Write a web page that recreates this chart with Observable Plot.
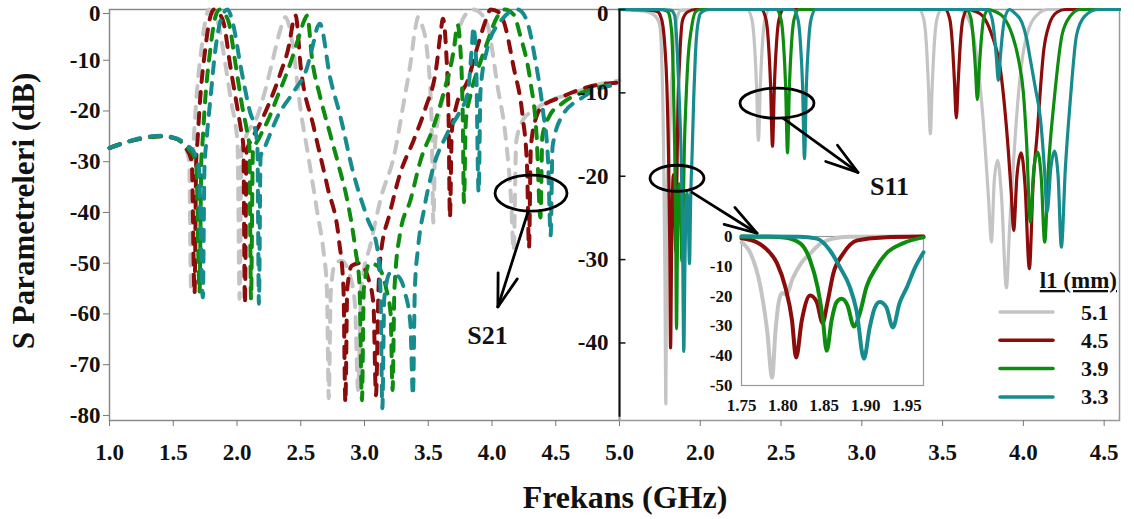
<!DOCTYPE html>
<html><head><meta charset="utf-8">
<script src="https://cdn.jsdelivr.net/npm/d3@7"></script>
<script src="https://cdn.jsdelivr.net/npm/@observablehq/plot@0.6"></script>
<style>
html,body{margin:0;padding:0;background:#fff;}
#chart{position:relative;width:1134px;height:519px;overflow:hidden;background:#fff;font-family:'Liberation Serif',serif;}
#chart > svg{position:absolute;}
#chart svg text{font-family:'Liberation Serif','Times New Roman',Times,serif !important;font-weight:bold;}
</style></head><body><div id="chart"></div><script>
// ---------------- data ----------------
const seriesLabels = ["5.1", "4.5", "3.9", "3.3"];
const legendTitle = "l1 (mm)";
const xTitle = "Frekans (GHz)";
const yTitle = "S Parametreleri (dB)";

// S21 (dashed, left panel): [GHz, dB]
const s21_51 = [[1.0,-27.3],[1.1,-26.4],[1.2,-25.7],[1.3,-25.2],[1.4,-25.0],[1.5,-25.3],[1.56,-26],[1.6,-27.5],[1.625,-30],[1.64,-55.5],[1.655,-30],[1.67,-22],[1.69,-15],[1.72,-8],[1.75,-2.5],[1.78,0],[1.81,-0.5],[1.85,-2.5],[1.91,-11],[1.96,-19],[1.99,-23],[2.005,-27],[2.02,-57],[2.035,-28],[2.07,-25],[2.16,-21],[2.21,-17],[2.28,-10],[2.34,-4],[2.38,-1.5],[2.43,-6],[2.5,-20],[2.56,-29],[2.63,-40],[2.68,-48],[2.705,-55],[2.72,-76.6],[2.735,-56],[2.77,-50],[2.82,-49.5],[2.88,-52],[2.925,-58],[2.95,-75],[2.975,-55],[3.05,-46],[3.13,-37],[3.23,-29],[3.31,-18],[3.36,-10.7],[3.40,-3.5],[3.42,-1.5],[3.45,-3],[3.49,-8],[3.525,-21],[3.54,-42],[3.555,-26],[3.6,-19],[3.65,-14.6],[3.71,-6.7],[3.78,-1.5],[3.85,0],[3.92,-1],[3.97,-3.5],[4.04,-14.6],[4.11,-25.8],[4.15,-37.6],[4.17,-47.5],[4.19,-26],[4.25,-21.5],[4.32,-20],[4.45,-18],[4.64,-16.5],[4.8,-15],[5.0,-14]];
const s21_45 = [[1.0,-27.3],[1.1,-26.4],[1.2,-25.7],[1.3,-25.2],[1.4,-25.0],[1.5,-25.3],[1.56,-26],[1.6,-27.3],[1.645,-30],[1.667,-56],[1.68,-30],[1.69,-26],[1.71,-18],[1.75,-8],[1.79,-1.5],[1.82,0],[1.86,-0.8],[1.894,-2.5],[1.949,-11.4],[2.0,-19],[2.03,-23.5],[2.05,-27],[2.062,-58],[2.075,-28],[2.12,-25.4],[2.18,-22.5],[2.26,-18],[2.34,-12.6],[2.41,-6.8],[2.44,-2.5],[2.46,-1.2],[2.5,-11.4],[2.6,-23],[2.71,-35],[2.8,-45.5],[2.835,-55],[2.85,-77.4],[2.865,-55],[2.9,-50.5],[2.96,-50],[3.03,-53],[3.07,-58],[3.09,-76],[3.11,-55],[3.125,-48.8],[3.2,-40],[3.28,-32.3],[3.385,-25.8],[3.48,-19.3],[3.56,-12],[3.6,-4],[3.615,-1.8],[3.64,-8],[3.66,-22],[3.67,-41],[3.685,-24],[3.72,-19],[3.81,-14],[3.89,-7],[3.95,-2.2],[3.99,0],[4.05,-0.5],[4.09,-2.2],[4.17,-11.4],[4.24,-21],[4.275,-31],[4.29,-47],[4.305,-27],[4.35,-21],[4.4,-19],[4.54,-17.3],[4.75,-15.3],[5.0,-14.4]];
const s21_39 = [[1.0,-27.3],[1.1,-26.4],[1.2,-25.7],[1.3,-25.2],[1.4,-25.0],[1.5,-25.3],[1.56,-26],[1.62,-27.5],[1.68,-30],[1.706,-55.7],[1.72,-30],[1.73,-26],[1.75,-18],[1.79,-8],[1.83,-1.5],[1.865,0],[1.9,-0.8],[1.935,-2.5],[1.99,-11],[2.04,-19],[2.075,-23.5],[2.097,-27],[2.11,-57],[2.125,-28],[2.17,-25.5],[2.24,-22],[2.32,-17],[2.42,-10.5],[2.49,-5],[2.53,-2],[2.55,-1.2],[2.59,-10],[2.65,-17],[2.73,-24.5],[2.8,-31],[2.865,-37.6],[2.93,-47.5],[2.96,-54],[2.98,-77],[2.995,-55],[3.04,-50],[3.1,-50.5],[3.17,-55],[3.205,-60],[3.22,-75],[3.235,-55],[3.28,-44],[3.36,-37.6],[3.44,-29.7],[3.54,-23.2],[3.62,-16.5],[3.7,-8],[3.73,-3],[3.75,-7],[3.77,-20],[3.78,-38],[3.795,-22],[3.83,-17],[3.9,-11],[3.96,-6.7],[4.04,-1.5],[4.1,0],[4.17,-1],[4.22,-5],[4.3,-14],[4.35,-25],[4.38,-41],[4.395,-25],[4.45,-21],[4.55,-18.5],[4.75,-16],[5.0,-14.6]];
const s21_33 = [[1.0,-27.3],[1.1,-26.4],[1.2,-25.6],[1.3,-25.1],[1.4,-24.9],[1.5,-25.2],[1.56,-25.8],[1.62,-27],[1.66,-28],[1.7,-31],[1.732,-56.7],[1.745,-31],[1.76,-26],[1.79,-18],[1.83,-8],[1.88,-1.5],[1.925,0],[1.97,-3],[2.03,-11.4],[2.1,-20],[2.145,-24],[2.16,-27],[2.172,-58],[2.185,-29],[2.22,-27],[2.32,-21],[2.45,-16],[2.55,-11.4],[2.6,-6.5],[2.63,-3.5],[2.65,-2.8],[2.73,-13.4],[2.81,-21],[2.91,-32],[3.02,-41],[3.1,-47],[3.125,-55],[3.14,-78.6],[3.155,-57],[3.2,-52],[3.26,-52.5],[3.32,-56],[3.36,-62],[3.38,-76],[3.395,-55],[3.42,-47],[3.47,-39],[3.53,-32],[3.65,-24.4],[3.75,-20],[3.81,-16.5],[3.84,-8],[3.855,-3.5],[3.875,-10],[3.895,-36],[3.91,-16],[3.96,-8],[4.07,-2.2],[4.2,0],[4.27,-2],[4.34,-10],[4.40,-20],[4.44,-30],[4.46,-44.5],[4.475,-27],[4.55,-21],[4.7,-17.5],[4.85,-15.5],[5.0,-14.8]];

// S11 (solid, right panel and inset): [GHz, dB]
const s11_51 = [[1.5,0],[1.65,-0.2],[1.70,-0.5],[1.73,-1],[1.75,-2],[1.761,-5.7],[1.773,-17],[1.781,-31.5],[1.787,-47.3],[1.791,-32],[1.795,-22],[1.799,-19],[1.804,-19.5],[1.812,-14],[1.822,-9],[1.833,-5.7],[1.845,-2.5],[1.861,-0.7],[1.88,-0.1],[1.97,0],[2.29,0],[2.32,-1.2],[2.335,-4],[2.348,-9],[2.36,-15.7],[2.372,-9],[2.385,-4],[2.40,-1.2],[2.43,0],[3.354,0],[3.384,-1.2],[3.399,-4],[3.412,-9],[3.424,-14.9],[3.436,-9],[3.449,-4],[3.464,-1.2],[3.494,0],[3.6,0],[3.65,-0.8],[3.69,-3],[3.72,-7],[3.75,-13],[3.785,-22.9],[3.802,-27.9],[3.82,-20.5],[3.841,-18.1],[3.865,-22.5],[3.895,-33.4],[3.915,-26],[3.94,-18],[3.97,-10],[4.0,-5],[4.04,-2],[4.1,-0.4],[4.15,0],[4.595,0]];
const s11_45 = [[1.5,0],[1.70,-0.1],[1.74,-0.3],[1.75,-0.6],[1.769,-2],[1.781,-4.5],[1.793,-9],[1.803,-17],[1.811,-28],[1.816,-40.6],[1.823,-28],[1.833,-19.8],[1.841,-22],[1.848,-29],[1.854,-22],[1.861,-12.4],[1.873,-5.7],[1.89,-1.3],[1.921,-0.3],[1.97,0],[2.377,0],[2.407,-1.2],[2.422,-4],[2.435,-9],[2.447,-16.4],[2.459,-9],[2.472,-4],[2.487,-1.2],[2.517,0],[3.515,0],[3.545,-1.2],[3.56,-4],[3.573,-8.5],[3.585,-13],[3.597,-8.5],[3.61,-4],[3.625,-1.2],[3.655,0],[3.70,-0.2],[3.75,-0.8],[3.8,-2.8],[3.86,-7.5],[3.907,-17],[3.925,-22],[3.94,-26.5],[3.96,-20],[3.986,-17.2],[4.01,-21],[4.037,-31.1],[4.06,-21],[4.085,-15],[4.126,-4.9],[4.16,-1.8],[4.21,-0.3],[4.26,0],[4.595,0]];
const s11_39 = [[1.5,0],[1.75,0],[1.78,-0.1],[1.801,-0.3],[1.821,-2.3],[1.833,-8],[1.842,-17],[1.848,-27],[1.853,-38.3],[1.859,-28],[1.865,-22],[1.871,-20.9],[1.878,-23],[1.886,-30.2],[1.893,-25.8],[1.901,-17],[1.913,-10.3],[1.925,-5.7],[1.945,-2.3],[1.97,-0.3],[2.0,0],[2.47,0],[2.5,-1.2],[2.515,-4],[2.528,-9],[2.54,-17.2],[2.552,-9],[2.565,-4],[2.58,-1.2],[2.61,0],[3.645,0],[3.675,-1],[3.69,-3.5],[3.703,-7],[3.715,-10.8],[3.727,-7],[3.74,-3.5],[3.755,-1],[3.785,0],[3.82,-0.2],[3.88,-1],[3.93,-3],[3.97,-6],[4.0,-10],[4.02,-16],[4.043,-25.5],[4.065,-19],[4.088,-17.1],[4.11,-20],[4.132,-27.9],[4.155,-19],[4.19,-11],[4.24,-3],[4.29,-0.8],[4.35,0],[4.595,0]];
const s11_33 = [[1.5,0],[1.75,0],[1.82,-0.1],[1.841,-0.7],[1.857,-4.7],[1.869,-10.3],[1.881,-17],[1.889,-24.8],[1.898,-41],[1.905,-30.5],[1.911,-24],[1.917,-22],[1.925,-23.7],[1.933,-30.5],[1.941,-22.4],[1.95,-17],[1.96,-10.3],[1.97,-5.3],[1.98,-2.5],[1.99,-1.2],[2.0,-0.5],[2.03,-0.1],[2.06,0],[2.575,0],[2.605,-1.2],[2.62,-4],[2.633,-9],[2.645,-17.9],[2.657,-9],[2.67,-4],[2.685,-1.2],[2.715,0],[3.775,0],[3.805,-1],[3.82,-3],[3.833,-5.8],[3.845,-8.5],[3.857,-5.8],[3.87,-3],[3.885,-1],[3.915,0],[3.95,-0.5],[3.99,-1.5],[4.02,-3.5],[4.043,-6],[4.075,-9.5],[4.105,-13],[4.13,-19],[4.147,-24.3],[4.17,-19],[4.192,-17],[4.215,-20],[4.235,-28.5],[4.26,-19],[4.29,-11],[4.33,-3],[4.38,-0.8],[4.46,0],[4.595,0]];

// ticks
const leftXTicks = [1.0,1.5,2.0,2.5,3.0,3.5,4.0,4.5,5.0];
const leftYTicks = [0,-10,-20,-30,-40,-50,-60,-70,-80];
const rightXTicks = [2.0,2.5,3.0,3.5,4.0,4.5];
const rightYTicks = [0,-10,-20,-30,-40];
const insetXTicks = [1.75,1.80,1.85,1.90,1.95];
const insetYTicks = [0,-10,-20,-30,-40,-50];

// annotations (data coordinates)
const s21Note = {label: "S21", ellipse: [4.31,-36.3], from: [4.286,-40], to: [4.05,-58.7], text: [3.965,-64.2]};
const s11Note = {label: "S11", ellipse: [2.478,-11.3], from: [2.515,-13.1], to: [2.979,-19.6], text: [3.171,-21.2]};
const zoomNote = {ellipse: [1.859,-20.3], from: [1.952,-22], to: [2.354,-26.9]};

// ---------------- styles ----------------
const colors = ["#c4c4c4", "#8c0b0b", "#0e8c10", "#178c8e"];
const FONT = "Liberation Serif, Times New Roman, Times, serif";

const toRows = (series) => series.flatMap((pts, i) => pts.map(([f, db]) => ({f, db, k: seriesLabels[i]})));
const s21Rows = toRows([s21_51, s21_45, s21_39, s21_33]);
const s11Rows = toRows([s11_51, s11_45, s11_39, s11_33]);
const insetRows = s11Rows.filter(d => d.f >= 1.75 && d.f <= 1.97);

const colorScale = {domain: seriesLabels, range: colors};
const baseStyle = (fs) => ({background: "transparent", overflow: "visible", fontFamily: FONT, fontWeight: "bold", fontSize: fs, color: "#111"});
const fmt = d => String(d);

function noteMark(note, rx, ry) {
  return (index, scales) => {
    const {x, y} = scales;
    const g = d3.create("svg:g").attr("fill", "none").attr("stroke", "#000")
      .attr("stroke-width", 2.8).attr("stroke-linecap", "round");
    g.append("ellipse").attr("cx", x(note.ellipse[0])).attr("cy", y(note.ellipse[1])).attr("rx", rx).attr("ry", ry);
    const x1 = x(note.from[0]), y1 = y(note.from[1]), x2 = x(note.to[0]), y2 = y(note.to[1]);
    g.append("line").attr("x1", x1).attr("y1", y1).attr("x2", x2).attr("y2", y2);
    const ang = Math.atan2(y1 - y2, x1 - x2), L = 34, half = 0.3;
    for (const s of [-1, 1]) {
      const a = ang + s * half;
      g.append("line").attr("x1", x2).attr("y1", y2).attr("x2", x2 + L * Math.cos(a)).attr("y2", y2 + L * Math.sin(a));
    }
    return g.node();
  };
}

const chart = document.getElementById("chart");

// ---------------- left panel (S21) ----------------
const left = Plot.plot({
  width: 625, height: 470, marginLeft: 109, marginRight: 6, marginTop: 9, marginBottom: 50,
  x: {domain: [1, 5]}, y: {domain: [-81, 0]},
  color: colorScale,
  style: baseStyle("23px"),
  marks: [
    Plot.frame({stroke: "#8a8a8a", strokeWidth: 1.5}),
    Plot.line(s21Rows, {x: "f", y: "db", z: "k", stroke: "k", strokeWidth: 4, strokeDasharray: "11,10", strokeLinecap: "round", curve: "monotone-x"}),
    Plot.axisX(leftXTicks, {tickFormat: d => d.toFixed(1), tickSize: 6, tickPadding: 17, stroke: "#777", label: null}),
    Plot.axisY(leftYTicks.slice(0, 1), {tickFormat: fmt, tickSize: 6, tickPadding: 3, stroke: "#777", label: null, dy: 4}),
    Plot.axisY(leftYTicks.slice(1), {tickFormat: fmt, tickSize: 6, tickPadding: 3, stroke: "#777", label: null}),
    noteMark(s21Note, 36, 18),
    Plot.text([s21Note], {x: d => d.text[0], y: d => d.text[1], text: "label", fontSize: 26, fontWeight: "bold", fill: "#111"})
  ]
});
left.style.left = "0px"; left.style.top = "0px";
chart.appendChild(left);

// ---------------- right panel (S11) ----------------
const right = Plot.plot({
  width: 574, height: 470, marginLeft: 59, marginRight: 15, marginTop: 9, marginBottom: 50,
  x: {domain: [1.5, 4.595]}, y: {domain: [-49.3, 0]},
  color: colorScale,
  style: baseStyle("23px"),
  marks: [
    Plot.frame({stroke: "#999", strokeWidth: 1.5}),
    Plot.line(s11Rows, {x: "f", y: "db", z: "k", stroke: "k", strokeWidth: 3.2, curve: "monotone-x"}),
    Plot.ruleX([1.5], {y1: 0, y2: -48.9, stroke: "#111", strokeWidth: 2}),
    Plot.ruleY(rightYTicks, {x1: 1.5, x2: 1.54, stroke: "#111", strokeWidth: 1.5}),
    Plot.axisX(rightXTicks, {tickFormat: d => d.toFixed(1), tickSize: 6, tickPadding: 17, stroke: "#777", label: null}),
    Plot.axisY(rightYTicks.slice(0, 1), {tickFormat: fmt, tickSize: 0, tickPadding: 11, label: null, dy: 4}),
    Plot.axisY(rightYTicks.slice(1), {tickFormat: fmt, tickSize: 0, tickPadding: 11, label: null}),
    noteMark(s11Note, 37, 15),
    noteMark(zoomNote, 27, 13),
    Plot.text([s11Note], {x: d => d.text[0], y: d => d.text[1], text: "label", fontSize: 26, fontWeight: "bold", fill: "#111"})
  ]
});
right.style.left = "560px"; right.style.top = "0px";
chart.appendChild(right);

// ---------------- inset ----------------
const inset = Plot.plot({
  width: 260, height: 210, marginLeft: 61, marginRight: 17, marginTop: 16, marginBottom: 45,
  x: {domain: [1.75, 1.97]}, y: {domain: [-50, 0]},
  color: colorScale,
  style: baseStyle("17px"),
  marks: [
    Plot.frame({stroke: "#999", strokeWidth: 1.2}),
    Plot.line(insetRows, {x: "f", y: "db", z: "k", stroke: "k", strokeWidth: 4, curve: "monotone-x"}),
    Plot.axisX(insetXTicks, {tickFormat: d => d.toFixed(2), tickSize: 0, tickPadding: 13, label: null}),
    Plot.axisY(insetYTicks, {tickFormat: fmt, tickSize: 0, tickPadding: 9, label: null})
  ]
});
inset.style.left = "680px"; inset.style.top = "220px";
chart.appendChild(inset);

// ---------------- titles & legend ----------------
const ov = d3.create("svg").attr("width", 1134).attr("height", 519)
  .style("left", "0px").style("top", "0px").style("pointer-events", "none")
  .attr("font-family", FONT).attr("font-weight", "bold").attr("fill", "#111");
ov.append("text").attr("transform", "translate(34,211) rotate(-90)").attr("text-anchor", "middle").attr("font-size", 31).text(yTitle);
ov.append("text").attr("x", 625).attr("y", 508).attr("text-anchor", "middle").attr("font-size", 32).text(xTitle);
const lg = ov.append("g");
lg.append("text").attr("x", 1117).attr("y", 288).attr("text-anchor", "end").attr("font-size", 23)
  .attr("text-decoration", "underline").text(legendTitle);
seriesLabels.forEach((s, i) => {
  const yy = 312 + i * 28.3;
  lg.append("line").attr("x1", 1000).attr("x2", 1053).attr("y1", yy).attr("y2", yy)
    .attr("stroke", colors[i]).attr("stroke-width", 3.5).attr("stroke-linecap", "round");
  lg.append("text").attr("x", 1081).attr("y", yy + 7.5).attr("font-size", 22).text(s);
});
chart.appendChild(ov.node());
</script></body></html>
